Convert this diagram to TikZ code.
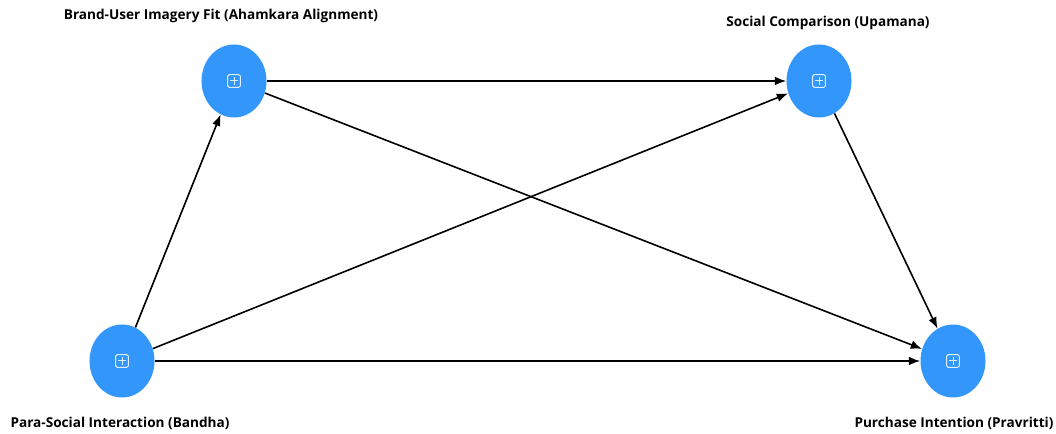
\documentclass[tikz,border=0pt]{standalone}
\usepackage{fontspec}
\setmainfont{Open Sans}
\usetikzlibrary{arrows.meta,shapes.geometric}

\definecolor{nodeblue}{HTML}{3396FA}

\tikzset{
  factor/.style={ellipse,fill=nodeblue,draw=none,minimum width=48.75pt,minimum height=54.75pt,inner sep=0pt,
    path picture={
      \draw[white,opacity=0.85,line width=0.75pt,rounded corners=1.2pt]
        ([shift={(-4.8pt,-4.8pt)}]path picture bounding box.center) rectangle
        ([shift={(4.8pt,4.8pt)}]path picture bounding box.center);
      \draw[white,opacity=0.85,line width=0.75pt]
        ([shift={(-2.8pt,0pt)}]path picture bounding box.center) --
        ([shift={(2.8pt,0pt)}]path picture bounding box.center)
        ([shift={(0pt,-2.8pt)}]path picture bounding box.center) --
        ([shift={(0pt,2.8pt)}]path picture bounding box.center);
    }},
  caption/.style={font=\bfseries\fontsize{10.2pt}{12pt}\selectfont,inner sep=0pt},
  link/.style={-{Latex[length=8.5pt,width=6.5pt]},line width=1.2pt,black}
}

\begin{document}
\begin{tikzpicture}[x=0.75pt,y=-0.75pt]

\useasboundingbox (0,0) rectangle (1056,434);

\node[factor] (brand) at (234,81) {};
\node[factor] (social) at (819,81) {};
\node[factor] (para) at (122,361) {};
\node[factor] (purchase) at (953,361) {};

\node[caption] (brandlbl) at (221,16) {Brand-User Imagery Fit (Ahamkara Alignment)};
\node[caption] (sociallbl) at (828,23) {Social Comparison (Upamana)};
\node[caption] (paralbl) at (120,423) {Para-Social Interaction (Bandha)};
\node[caption] (purchaselbl) at (954,423) {Purchase Intention (Pravritti)};

\draw[link] (para) -- (brand);
\draw[link] (para) -- (social);
\draw[link] (para) -- (purchase);
\draw[link] (brand) -- (social);
\draw[link] (brand) -- (purchase);
\draw[link] (social) -- (purchase);

\end{tikzpicture}
\end{document}
